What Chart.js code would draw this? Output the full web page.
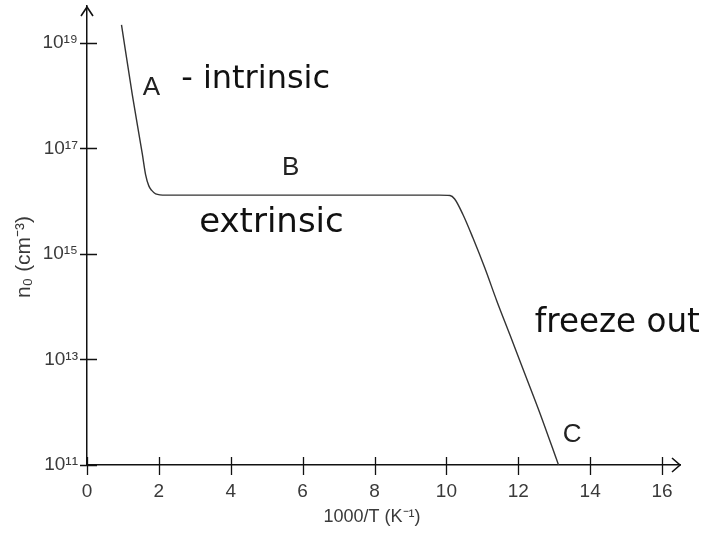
<!DOCTYPE html>
<html>
<head>
<meta charset="utf-8">
<script src="https://cdn.jsdelivr.net/npm/chart.js@4.4.0/dist/chart.umd.min.js"></script>
<style>
    html, body { margin: 0; padding: 0; background: #fff; }
    #wrap { width: 702px; height: 533px; }
</style>
</head>
<body>
<div id="wrap"><canvas id="carrierChart"></canvas></div>
<script>
// n0 vs 1000/T
const invT = [0.96, 1.26, 1.54, 1.63, 1.72, 1.8, 1.91, 2.19, 4, 6, 8, 9.8, 10.1, 10.23, 10.46, 10.74, 11.07, 11.4, 11.77, 12.19, 12.61, 13.12];
const electronConc = [2.2e19, 1.05e18, 7.8e16, 3.2e16, 1.95e16, 1.6e16, 1.38e16, 1.3e16, 1.3e16, 1.3e16, 1.3e16, 1.3e16, 1.28e16, 1.1e16, 5.6e15, 2.0e15, 5.4e14, 1.3e14, 2.9e13, 5.2e12, 9.3e11, 1.0e11];

const xTicks = [0, 2, 4, 6, 8, 10, 12, 14, 16];
const yTicks = [1e11, 1e13, 1e15, 1e17, 1e19];
const yTickLabels = ['10¹¹', '10¹³', '10¹⁵', '10¹⁷', '10¹⁹'];
const xTitle = '1000/T (K⁻¹)';
const yTitle = 'n₀ (cm⁻³)';

// printed region letters and the handwritten notes (data coordinates)
const regionLetters = ['A', 'B', 'C'];
const letterX = [1.79, 5.67, 13.5];
const letterY = [1.4e18, 4.2e16, 3.8e11];
const noteText = ['- intrinsic', 'extrinsic', 'freeze out'];
const noteX = [2.62, 3.12, 12.46];
const noteY = [2.0e18, 3.9e15, 4.9e13];

const axisColor = '#111';
const textColor = '#3a3a3a';
const labelFont = '"Liberation Sans", Arial, sans-serif';

const axisDecor = {
    id: 'axisDecor',
    afterDraw(chart) {
        const ctx = chart.ctx;
        const xs = chart.scales.x;
        const ys = chart.scales.y;
        const area = chart.chartArea;
        ctx.save();
        ctx.strokeStyle = axisColor;
        ctx.lineWidth = 1.3;

        // tick marks crossing the axes
        ctx.beginPath();
        yTicks.forEach(v => {
            const py = Math.round(ys.getPixelForValue(v)) + 0.5;
            ctx.moveTo(area.left - 7, py);
            ctx.lineTo(area.left + 10, py);
        });
        xTicks.forEach(v => {
            const px = Math.round(xs.getPixelForValue(v)) + 0.5;
            ctx.moveTo(px, area.bottom - 8);
            ctx.lineTo(px, area.bottom + 10);
        });
        ctx.stroke();

        // arrow heads
        ctx.lineWidth = 1.6;
        ctx.beginPath();
        ctx.moveTo(area.left - 6, area.top + 10);
        ctx.lineTo(area.left, area.top + 1);
        ctx.lineTo(area.left + 6, area.top + 10);
        ctx.moveTo(area.right - 8, area.bottom - 7);
        ctx.lineTo(area.right, area.bottom);
        ctx.lineTo(area.right - 8, area.bottom + 7);
        ctx.stroke();

        // axis titles
        ctx.fillStyle = textColor;
        ctx.textAlign = 'center';
        ctx.textBaseline = 'middle';
        ctx.font = '18px ' + labelFont;
        ctx.fillText(xTitle, area.left + 285, area.bottom + 52);
        ctx.save();
        ctx.translate(24, area.top + 251);
        ctx.rotate(-Math.PI / 2);
        ctx.font = '21px ' + labelFont;
        ctx.fillText(yTitle, 0, 0);
        ctx.restore();

        // region letters
        ctx.fillStyle = '#222';
        ctx.font = '26px ' + labelFont;
        regionLetters.forEach((t, i) => {
            ctx.fillText(t, xs.getPixelForValue(letterX[i]), ys.getPixelForValue(letterY[i]));
        });

        // handwritten notes
        ctx.fillStyle = '#111';
        ctx.textAlign = 'left';
        const noteSize = [32, 34, 33];
        const noteWidth = [150, 147, 165];
        noteText.forEach((t, i) => {
            ctx.font = noteSize[i] + 'px "DejaVu Sans", sans-serif';
            ctx.fillText(t, xs.getPixelForValue(noteX[i]), ys.getPixelForValue(noteY[i]), noteWidth[i]);
        });
        ctx.restore();
    }
};

document.addEventListener('DOMContentLoaded', () => {
    const ctx = document.getElementById('carrierChart').getContext('2d');
    const carrierChart = new Chart(ctx, {
        type: 'scatter',
        data: {
            datasets: [{
                label: 'n0',
                data: invT.map((x, i) => ({ x: x, y: electronConc[i] })),
                showLine: true,
                borderColor: '#333',
                borderWidth: 1.4,
                pointRadius: 0,
                cubicInterpolationMode: 'monotone'
            }]
        },
        options: {
            responsive: true,
            maintainAspectRatio: false,
            animation: false,
            layout: {
                padding: { top: 6, right: 22, left: 0, bottom: 0 }
            },
            scales: {
                x: {
                    type: 'linear',
                    min: 0,
                    max: 16.5,
                    afterBuildTicks: s => { s.ticks = xTicks.map(v => ({ value: v })); },
                    afterFit: s => { s.height = 68; s.paddingLeft = 0; s.paddingRight = 0; },
                    grid: { drawOnChartArea: false, drawTicks: false },
                    border: { color: axisColor, width: 1.5 },
                    ticks: {
                        padding: 15,
                        color: textColor,
                        font: { family: labelFont, size: 19 }
                    }
                },
                y: {
                    type: 'logarithmic',
                    min: 1e11,
                    max: 5e19,
                    afterBuildTicks: s => { s.ticks = yTicks.map(v => ({ value: v })); },
                    afterFit: s => { s.width = 87; s.paddingTop = 0; s.paddingBottom = 0; },
                    grid: { drawOnChartArea: false, drawTicks: false },
                    border: { color: axisColor, width: 1.5 },
                    ticks: {
                        padding: 9,
                        color: textColor,
                        font: { family: labelFont, size: 19 },
                        callback: (v) => {
                            const k = yTicks.indexOf(v);
                            return k >= 0 ? yTickLabels[k] : '';
                        }
                    }
                }
            },
            plugins: {
                legend: { display: false },
                tooltip: { enabled: false }
            }
        },
        plugins: [axisDecor]
    });
});
</script>
</body>
</html>
